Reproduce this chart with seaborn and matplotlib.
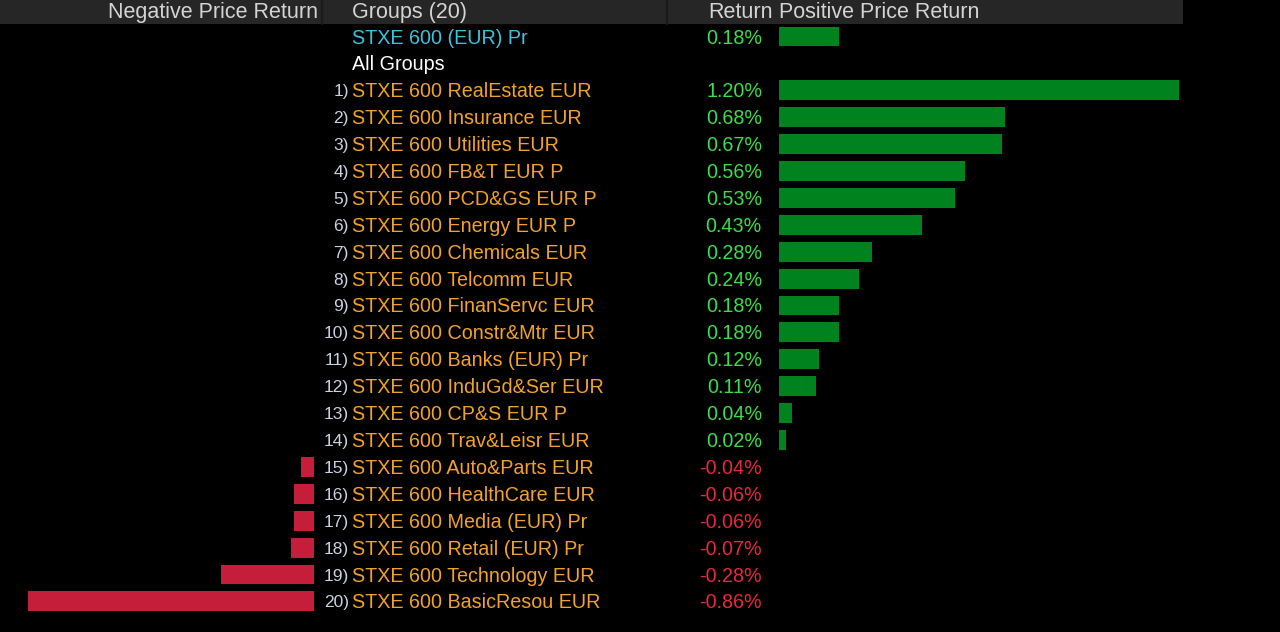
import matplotlib
matplotlib.use("Agg")
import matplotlib.pyplot as plt
import pandas as pd
import seaborn as sns

sns.set_theme(style="dark")
plt.rcParams['font.family'] = ['Liberation Sans', 'DejaVu Sans']

# data
index_name = "STXE 600 (EUR) Pr"
index_return = 0.18
group_names = ["STXE 600 RealEstate EUR", "STXE 600 Insurance EUR", "STXE 600 Utilities EUR",
               "STXE 600 FB&T EUR P", "STXE 600 PCD&GS EUR P", "STXE 600 Energy EUR P",
               "STXE 600 Chemicals EUR", "STXE 600 Telcomm EUR", "STXE 600 FinanServc EUR",
               "STXE 600 Constr&Mtr EUR", "STXE 600 Banks (EUR) Pr", "STXE 600 InduGd&Ser EUR",
               "STXE 600 CP&S EUR P", "STXE 600 Trav&Leisr EUR", "STXE 600 Auto&Parts EUR",
               "STXE 600 HealthCare EUR", "STXE 600 Media (EUR) Pr", "STXE 600 Retail (EUR) Pr",
               "STXE 600 Technology EUR", "STXE 600 BasicResou EUR"]
group_returns = [1.20, 0.68, 0.67, 0.56, 0.53, 0.43, 0.28, 0.24, 0.18, 0.18,
                 0.12, 0.11, 0.04, 0.02, -0.04, -0.06, -0.06, -0.07, -0.28, -0.86]

# colours
BG = "black"
HEADER = "#262626"
HEADER_TXT = "#d4d4d4"
GREEN_BAR = "#00821e"
RED_BAR = "#c41e3a"
GREEN_TXT = "#3ddc4a"
RED_TXT = "#e8283c"
ORANGE = "#f2a22c"
CYAN = "#3cc4dc"
NUM_TXT = "#c8d2e4"

# one table row per line: index, "All Groups" header, then the 20 groups
rows = [index_name, "All Groups"] + group_names
vals = [index_return, 0.0] + group_returns
df = pd.DataFrame({"row": rows, "ret": vals})
df["pos"] = df["ret"].clip(lower=0)
df["neg"] = df["ret"].clip(upper=0)

W, H = 1280, 632
scale = 333.0        # pixels per 1 %
row_top = 36.5       # centre of first row in px
row_h = 26.9         # row pitch in px
ylim = ((H - row_top) / row_h, -row_top / row_h)

fig = plt.figure(figsize=(W / 100, H / 100), dpi=100)
fig.patch.set_facecolor(BG)

# positive bars
ax_pos = fig.add_axes([779 / W, 0, 430 / W, 1])
sns.barplot(data=df, x="pos", y="row", order=rows, color=GREEN_BAR, width=0.74,
            saturation=1, linewidth=0, orient="h", ax=ax_pos)
ax_pos.set_xlim(0, 430 / scale)

# negative bars
ax_neg = fig.add_axes([0, 0, 314 / W, 1])
sns.barplot(data=df, x="neg", y="row", order=rows, color=RED_BAR, width=0.74,
            saturation=1, linewidth=0, orient="h", ax=ax_neg)
ax_neg.set_xlim(-314 / scale, 0)

for a in (ax_pos, ax_neg):
    a.set_ylim(*ylim)
    a.set_facecolor("none")
    a.axis("off")

# text layer in pixel units
ax = fig.add_axes([0, 0, 1, 1], zorder=-1)
ax.set_xlim(0, W)
ax.set_ylim(H, 0)
ax.set_facecolor(BG)
ax.axis("off")

ax.add_patch(plt.Rectangle((0, 0), 1183, 24, color=HEADER, lw=0))
for xd in (322, 667):
    ax.plot([xd, xd], [0, 24], color="#1a1a1a", lw=1.5)

hdr = dict(color=HEADER_TXT, fontsize=15.5, va="center")
ax.text(318, 12.5, "Negative Price Return", ha="right", **hdr)
ax.text(352, 12.5, "Groups (20)", ha="left", **hdr)
ax.text(773, 12.5, "Return", ha="right", **hdr)
ax.text(779, 12.5, "Positive Price Return", ha="left", **hdr)

dy = 1.5  # text sits a touch below the bar centre
body = dict(fontsize=14.2, va="center")
ax.text(352, row_top + dy, index_name, color=CYAN, ha="left", **body)
ax.text(762, row_top + dy, f"{index_return:.2f}%", color=GREEN_TXT, ha="right", **body)
ax.text(352, row_top + row_h + dy, "All Groups", color="white", ha="left", **body)

for i, (name, r) in enumerate(zip(group_names, group_returns)):
    y = row_top + row_h * (i + 2) + dy
    ax.text(349, y, f"{i + 1})", color=NUM_TXT, ha="right",
            family=["Liberation Sans Narrow", "Liberation Sans"], fontsize=12.5, va="center")
    ax.text(352, y, name, color=ORANGE, ha="left", **body)
    ax.text(762, y, f"{r:.2f}%", color=GREEN_TXT if r > 0 else RED_TXT, ha="right", **body)

fig.savefig("out.png", dpi=100, facecolor=BG)
